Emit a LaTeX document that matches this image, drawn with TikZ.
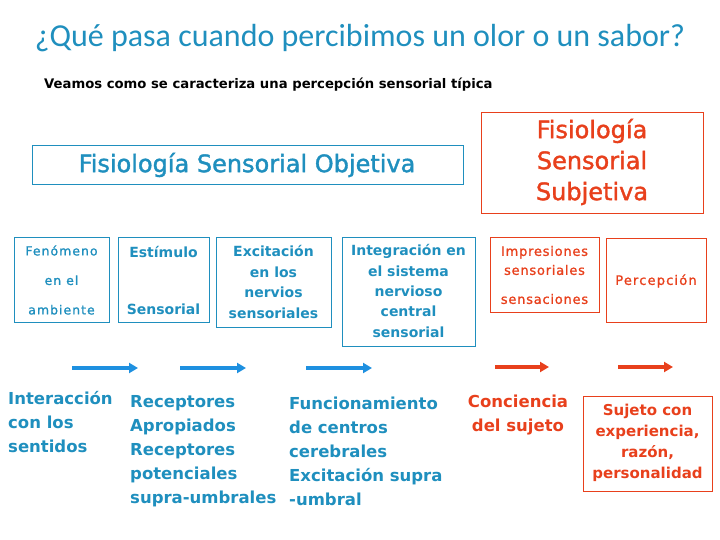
\documentclass[tikz,border=0pt]{standalone}
\usepackage{fontspec}
\setmainfont{DejaVu Sans}
\newfontfamily\titlefont{Carlito}
\usetikzlibrary{arrows.meta}
\definecolor{teal1}{RGB}{31,143,190}
\definecolor{blue1}{RGB}{30,144,224}
\definecolor{red1}{RGB}{232,64,28}
\tikzset{
  bbox/.style={draw=teal1,line width=0.9pt,text=teal1},
  rbox/.style={draw=red1,line width=0.9pt,text=red1},
  barrow/.style={draw=blue1,line width=3.5pt,-{Triangle[length=9pt,width=10pt]}},
  rarrow/.style={draw=red1,line width=3.5pt,-{Triangle[length=9pt,width=10pt]}},
  btext/.style={text=teal1,font=\bfseries\fontsize{16.5}{24}\selectfont,align=left,anchor=north west,inner sep=0pt},
}
\begin{document}
\begin{tikzpicture}[x=1pt,y=-1pt]
\useasboundingbox (0,0) rectangle (720,540);
% title
\node (title) at (360,38) {\titlefont\color{teal1}\fontsize{32}{34}\selectfont ¿Qué pasa cuando percibimos un olor o un sabor?};
\node[anchor=west,inner sep=0pt] (sub) at (44,85) {\bfseries\fontsize{13.2}{15}\selectfont Veamos como se caracteriza una percepción sensorial típica};
% header boxes
\draw[bbox] (32,145) rectangle (463,184);
\node[text=teal1,font=\fontsize{24}{26}\selectfont\addfontfeature{FakeBold=1.5}] (obj) at (247,165) {Fisiología Sensorial Objetiva};
\draw[rbox] (481,112) rectangle (703,213);
\node[text=red1,font=\fontsize{24}{31}\selectfont\addfontfeature{FakeBold=1.5},align=center] (subj) at (592,162) {Fisiología\\Sensorial\\Subjetiva};
% boxes
\draw[bbox] (14,237) rectangle (109,322);
\node[text=teal1,font=\fontsize{12.5}{29.5}\selectfont\addfontfeature{LetterSpace=8,FakeBold=1.2},align=center] (fen) at (61.5,280) {Fenómeno\\en el\\ambiente};
\draw[bbox] (118,237) rectangle (209,322);
\node[text=teal1,font=\bfseries\fontsize{14}{57}\selectfont,align=center] (est) at (163.5,280) {Estímulo\\Sensorial};
\draw[bbox] (216,237) rectangle (331,327);
\node[text=teal1,font=\bfseries\fontsize{14}{20.5}\selectfont,align=center] (exc) at (273.5,282) {Excitación\\en los\\nervios\\sensoriales};
\draw[bbox] (342,237) rectangle (475,346);
\node[text=teal1,font=\bfseries\fontsize{14}{20.3}\selectfont,align=center] (int) at (408.5,291) {Integración en\\el sistema\\nervioso\\central\\sensorial};
\draw[rbox] (490,237) rectangle (599,312);
\node[text=red1,font=\fontsize{13}{19}\selectfont\addfontfeature{LetterSpace=6,FakeBold=1.2},align=center] (imp) at (544.5,260.5) {Impresiones\\sensoriales};
\node[text=red1,font=\fontsize{13}{19}\selectfont\addfontfeature{LetterSpace=6,FakeBold=1.2}] (sen) at (544.5,299) {sensaciones};
\draw[rbox] (606,238) rectangle (706,322);
\node[text=red1,font=\fontsize{13}{19}\selectfont\addfontfeature{LetterSpace=9,FakeBold=1.2}] (per) at (656,281) {Percepción};
% arrows
\coordinate (a1s) at (72,368); \coordinate (a1e) at (138,368);
\coordinate (a2s) at (180,368); \coordinate (a2e) at (246,368);
\coordinate (a3s) at (306,368); \coordinate (a3e) at (372,368);
\coordinate (a4s) at (495,367); \coordinate (a4e) at (549,367);
\coordinate (a5s) at (618,367); \coordinate (a5e) at (673,367);
\draw[barrow] (a1s) -- (a1e);
\draw[barrow] (a2s) -- (a2e);
\draw[barrow] (a3s) -- (a3e);
\draw[rarrow] (a4s) -- (a4e);
\draw[rarrow] (a5s) -- (a5e);
% bottom texts
\node[btext] (t1) at (8,391) {Interacción\\con los\\sentidos};
\node[btext] (t2) at (130,395) {Receptores\\Apropiados\\Receptores\\potenciales\\supra-umbrales};
\node[btext] (t3) at (289,397) {Funcionamiento\\de centros\\cerebrales\\Excitación supra\\-umbral};
\node[btext,text=red1,align=center,anchor=north] (t4) at (518,395) {Conciencia\\del sujeto};
\draw[rbox] (583,396) rectangle (712,491);
\node[text=red1,font=\bfseries\fontsize{15}{21}\selectfont,align=center] (t5) at (647.5,443) {Sujeto con\\experiencia,\\razón,\\personalidad};
\end{tikzpicture}
\end{document}
